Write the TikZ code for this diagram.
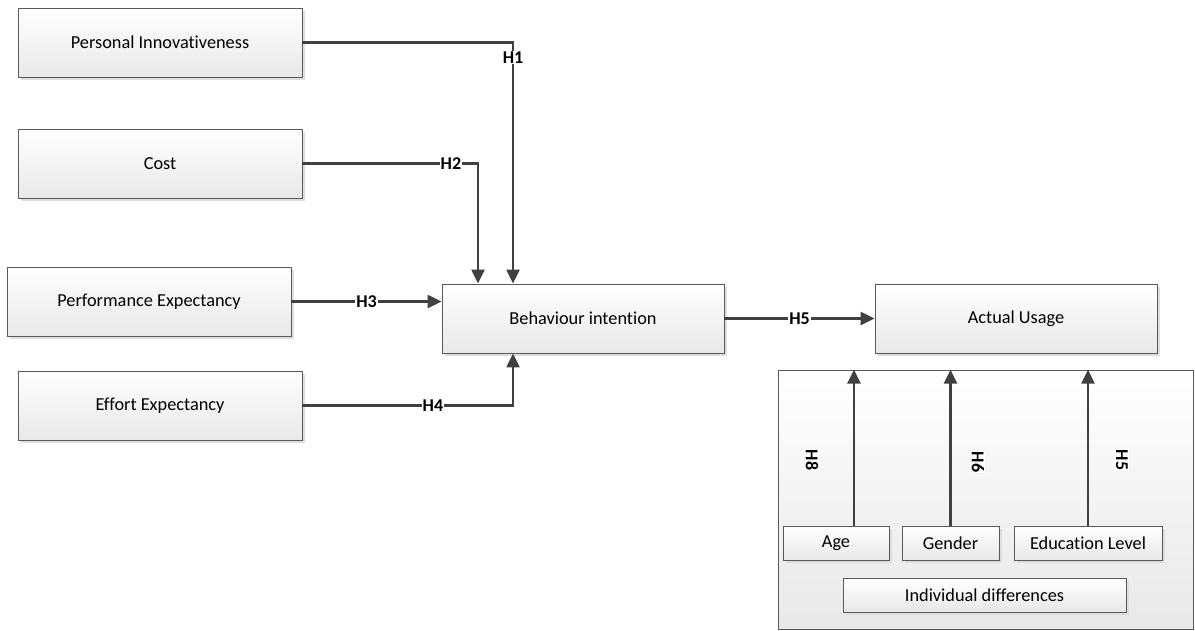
\documentclass[tikz,border=0pt]{standalone}
\usepackage{fontspec}
\setmainfont{Carlito}[Ligatures={NoCommon}]
\usetikzlibrary{arrows.meta,shadows,calc}
\definecolor{linecol}{HTML}{404040}
\definecolor{edgecol}{HTML}{595959}
\tikzset{
  box/.style={draw=edgecol, line width=0.8pt, top color=white, bottom color=black!9,
    drop shadow={shadow xshift=3pt, shadow yshift=-3pt, fill=black!13, opacity=1},
    minimum height=69pt, minimum width=284pt, inner sep=0pt, font=\fontsize{18.3}{22}\selectfont},
  smallbox/.style={box, minimum height=34pt},
  conn/.style={draw=linecol, line width=2.2pt},
  arr/.style={conn, -{Triangle[length=14pt,width=13pt]}},
  hlab/.style={fill=white, inner sep=1pt, font=\fontsize{18}{21}\selectfont\bfseries, text=black},
}
\begin{document}
\begin{tikzpicture}[x=1pt,y=-1pt]
\useasboundingbox (0,0) rectangle (1195,630);
% main boxes
\node[box] (pi) at (160,42.5) {Personal Innovativeness};
\node[box] (cost) at (160,163.5) {Cost};
\node[box] (pe) at (149,301.5) {Performance Expectancy};
\node[box] (ee) at (160,405.5) {Effort Expectancy};
\node[box, minimum width=282pt] (bi) at (583,318.5) {Behaviour intention};
\node[box, minimum width=282pt] (au) at (1016,318.5) {Actual Usage};
% container
\node[draw=edgecol, line width=0.8pt, top color=white, bottom color=black!9,
      minimum width=415pt, minimum height=259pt, inner sep=0pt] (cont) at (985.5,499.5) {};
\node[smallbox, minimum width=106pt] (age) at (836,543) {Age};
\node[smallbox, minimum width=97pt] (gender) at (950.5,543) {Gender};
\node[smallbox, minimum width=148pt] (edu) at (1088,543) {Education Level};
\node[smallbox, minimum width=283pt] (idiff) at (984.5,595) {Individual differences};
% connectors
\draw[arr] (pi.east) -| node[hlab, pos=0.531] {H1} ([xshift=-70pt]bi.north);
\draw[arr] (cost.east) -| node[hlab, pos=0.423] {H2} ([xshift=-105pt]bi.north);
\draw[arr] (pe.east) -- node[hlab, pos=0.5] {H3} (pe.east -| bi.west);
\draw[arr] (ee.east) -| node[hlab, pos=0.31] {H4} ([xshift=-70pt]bi.south);
\draw[arr] (bi.east) -- node[hlab, pos=0.5] {H5} (au.west);
% moderators
\draw[arr] ([xshift=18pt]age.north) -- ([xshift=18pt]age.north |- cont.north);
\draw[arr] (gender.north) -- (gender.north |- cont.north);
\draw[arr] (edu.north) -- (edu.north |- cont.north);
\node[hlab, rotate=-90] (h8) at (812,460) {H8};
\node[hlab, rotate=-90] (h6) at (978,462) {H6};
\node[hlab, rotate=-90] (h5b) at (1122,460) {H5};
\end{tikzpicture}
\end{document}
